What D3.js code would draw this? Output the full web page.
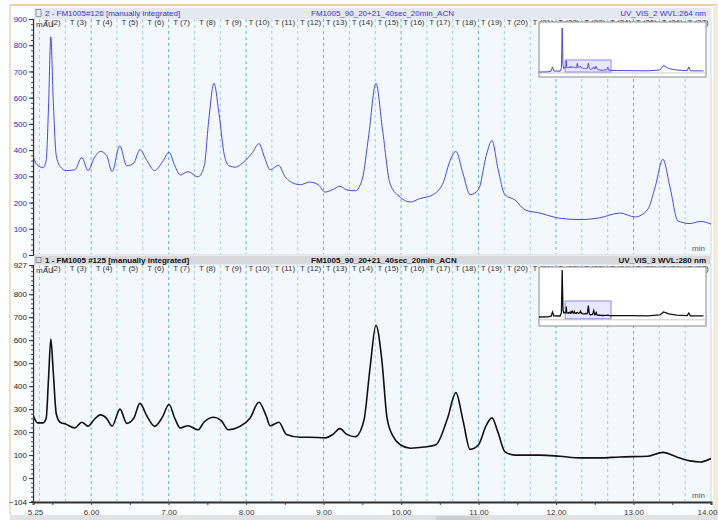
<!DOCTYPE html>
<html lang="en">
<head>
  <meta charset="UTF-8">
  <title>Chromatogram overlay</title>
  <script src="https://d3js.org/d3.v7.min.js"></script>
  <style>
    body { margin: 0; background: #fff; }
    text { font-family: "Liberation Sans", Arial, sans-serif; font-size: 8px; }
    .tick text { font-size: 8px; }
  </style>
</head>
<body>
  <svg id="chart" width="718" height="520"></svg>
  <script>
    // retention times (min) and absorbance (mAU)
    const topTimes = [5.25, 5.30, 5.38, 5.42, 5.45, 5.48, 5.51, 5.55, 5.60, 5.68, 5.79, 5.88, 5.96, 6.04, 6.12, 6.20, 6.27,
      6.37, 6.46, 6.55, 6.63, 6.72, 6.82, 6.92, 7.005, 7.08, 7.15, 7.25, 7.38, 7.46, 7.52, 7.585, 7.65, 7.72, 7.78, 7.86,
      7.93, 7.99, 8.08, 8.166, 8.24, 8.31, 8.42, 8.50, 8.57, 8.70, 8.82, 8.93, 9.02, 9.12, 9.21, 9.30, 9.41, 9.50, 9.58,
      9.676, 9.76, 9.86, 9.99, 10.12, 10.24, 10.40, 10.55, 10.62, 10.708, 10.80, 10.89, 11.00, 11.10, 11.173, 11.25,
      11.34, 11.47, 11.60, 11.79, 12.05, 12.31, 12.565, 12.824, 13.02, 13.185, 13.28, 13.379, 13.47, 13.573, 13.73,
      13.86, 14.0];
    const topValues = [375, 345, 333, 360, 560, 832, 600, 380, 338, 322, 325, 372, 322, 370, 395, 380, 318,
      416, 340, 350, 402, 360, 322, 355, 392, 340, 305, 318, 298, 340, 520, 655, 540, 380, 340, 335,
      345, 360, 390, 425, 370, 325, 342, 300, 280, 268, 278, 268, 240, 250, 262, 248, 245, 290, 450,
      655, 480, 270, 220, 202, 215, 228, 280, 350, 395, 310, 230, 250, 380, 437, 330,
      230, 210, 172, 160, 140, 135, 142, 160, 145, 175, 260, 365, 260, 130, 120,
      128, 118];

    const botTimes = [5.25, 5.31, 5.38, 5.42, 5.45, 5.48, 5.51, 5.55, 5.60, 5.67, 5.79, 5.88, 5.96, 6.04, 6.12, 6.20, 6.27,
      6.373, 6.46, 6.55, 6.63, 6.72, 6.82, 6.92, 7.005, 7.08, 7.15, 7.25, 7.38, 7.46, 7.585, 7.68, 7.77, 7.92, 8.05,
      8.166, 8.26, 8.31, 8.424, 8.52, 8.70, 8.82, 9.02, 9.12, 9.211, 9.30, 9.41, 9.52, 9.60, 9.676, 9.75, 9.82, 9.90,
      9.99, 10.12, 10.30, 10.45, 10.60, 10.708, 10.80, 10.89, 11.00, 11.10, 11.173, 11.25, 11.34, 11.47, 11.79, 12.05,
      12.31, 12.565, 12.824, 13.185, 13.379, 13.573, 13.73, 13.86, 14.0];
    const botValues = [275, 240, 240, 260, 430, 605, 470, 280, 243, 235, 218, 243, 226, 255, 275, 260, 226,
      300, 238, 260, 325, 270, 225, 265, 320, 260, 218, 228, 210, 245, 265, 250, 210, 225, 260,
      330, 270, 228, 243, 190, 178, 178, 175, 190, 215, 190, 180, 250, 480, 665, 520, 260, 180,
      145, 130, 135, 145, 260, 372, 250, 125, 145, 230, 262, 200, 115, 100, 100, 95,
      88, 88, 92, 95, 112, 90, 75, 70, 85];

    // whole run for the overview insets (outside the zoomed window)
    const preTimes = [0, 2.0, 2.6, 2.85, 3.1, 4.3, 4.55, 4.7, 4.85, 5.0];
    const topPre = [0, 10, 60, 380, 80, 60, 300, 3300, 500, 250];
    const botPre = [0, 10, 50, 290, 70, 60, 250, 2720, 400, 240];
    const postTimes = [15, 18, 21, 23.3, 24, 25, 26.5, 28.5, 28.8, 29.1, 31.6];
    const topPost = [110, 100, 90, 150, 500, 250, 150, 100, 380, 90, 80];
    const botPost = [80, 75, 70, 120, 290, 180, 110, 80, 230, 70, 60];

    // integration windows and their labels
    const windowLines = [5.333, 5.667, 6.0, 6.333, 6.667, 7.0, 7.333, 7.667, 8.0, 8.333, 8.667, 9.0, 9.333,
      9.667, 10.0, 10.333, 10.667, 11.0, 11.333, 11.667, 12.0, 12.333, 12.667, 13.0, 13.333, 13.667];
    const windowNames = ["T (2)", "T (3)", "T (4)", "T (5)", "T (6)", "T (7)", "T (8)", "T (9)", "T (10)", "T (11)",
      "T (12)", "T (13)", "T (14)", "T (15)", "T (16)", "T (17)", "T (18)", "T (19)", "T (20)", "T (21)", "T (22)",
      "T (23)", "T (24)", "T (25)", "T (26)", "T (27)"];

    const xTickValues = [5.25, 6, 7, 8, 9, 10, 11, 12, 13, 14];
    const topTicks = [0, 100, 200, 300, 400, 500, 600, 700, 800, 900];
    const botTicks = [-104, 0, 100, 200, 300, 400, 500, 600, 700, 800, 927];

    const svg = d3.select("#chart");
    const x = d3.scaleLinear().domain([5.25, 14]).range([33, 711]);

    // outer frame
    svg.append("rect").attr("x", 0).attr("y", 0).attr("width", 718).attr("height", 520).attr("fill", "#fff");
    svg.append("rect").attr("x", 10).attr("y", 5).attr("width", 703).attr("height", 510).attr("fill", "#fbfcfe");
    svg.append("line").attr("x1", 10).attr("x2", 718).attr("y1", 5).attr("y2", 5).attr("stroke", "#efcf9f").attr("stroke-width", 2);
    svg.append("line").attr("x1", 10).attr("x2", 10).attr("y1", 5).attr("y2", 515).attr("stroke", "#e8d6b8").attr("stroke-width", 1.5);
    svg.append("rect").attr("x", 713).attr("y", 5).attr("width", 5).attr("height", 515).attr("fill", "#f6ead2");
    svg.append("rect").attr("x", 10).attr("y", 515).attr("width", 708).attr("height", 5).attr("fill", "#e2e2e2");
    svg.append("rect").attr("x", 436).attr("y", 516).attr("width", 44).attr("height", 4).attr("fill", "#cfcfcf");

    const panels = [
      { id: "top", top: 18, bottom: 255, times: topTimes, values: topValues, domain: [0, 900], range: [255, 19],
        ticks: topTicks, minorStep: 20, color: "#4646ee", width: 1, labelColor: "#2a2acc",
        barY: 8, barH: 10, barFill: "#e6e8f1", titleColor: "#3535d8", titleWeight: "normal",
        title: "2 - FM1005#126 [manually integrated]", wvl: "UV_VIS_2 WVL:264 nm",
        pre: topPre, post: topPost, inset: { y0: 22, y1: 77, base: 72, peak: 28, max: 3300 } },
      { id: "bot", top: 264, bottom: 502, times: botTimes, values: botValues, domain: [-104, 927], range: [502, 265],
        ticks: botTicks, minorStep: 20, color: "#111", width: 1.6, labelColor: "#222",
        barY: 256, barH: 8, barFill: "#d9d9dc", titleColor: "#111", titleWeight: "bold",
        title: "1 - FM1005 #125 [manually integrated]", wvl: "UV_VIS_3 WVL:280 nm",
        pre: botPre, post: botPost, inset: { y0: 267, y1: 326, base: 317, peak: 270, max: 2720 } }
    ];

    panels.forEach(p => {
      const y = d3.scaleLinear().domain(p.domain).range(p.range);
      const g = svg.append("g");

      g.append("rect").attr("x", 34).attr("y", p.top).attr("width", 677).attr("height", p.bottom - p.top)
        .attr("fill", "#f3f8fd").attr("stroke", "#b9c2cc").attr("stroke-width", 0.6);

      // title bar
      g.append("rect").attr("x", 34).attr("y", p.barY).attr("width", 677).attr("height", p.barH).attr("fill", p.barFill);
      g.append("rect").attr("x", 36).attr("y", p.barY + 1.5).attr("width", 5).attr("height", p.barH - 3)
        .attr("fill", "none").attr("stroke", "#666").attr("stroke-width", 0.6);
      const ty = p.barY + p.barH / 2 + 3;
      g.append("text").attr("x", 45).attr("y", ty).attr("fill", p.titleColor).attr("font-weight", p.titleWeight).text(p.title);
      g.append("text").attr("x", 311).attr("y", ty).attr("fill", p.titleColor).attr("font-weight", p.titleWeight)
        .text("FM1005_90_20+21_40sec_20min_ACN");
      g.append("text").attr("x", 706).attr("y", ty).attr("text-anchor", "end").attr("fill", p.titleColor)
        .attr("font-weight", p.titleWeight).text(p.wvl);

      // integration window lines
      g.selectAll(".win").data(windowLines).enter().append("line")
        .attr("x1", d => x(d)).attr("x2", d => x(d))
        .attr("y1", p.top + 1).attr("y2", p.bottom - 1)
        .attr("stroke", (d, i) => i % 3 === 2 ? "#5fb2ea" : "#93cdf2")
        .attr("stroke-width", 1).attr("stroke-dasharray", "3,3");

      const labelY = p.top + 7;
      const winEnd = i => i < windowLines.length - 1 ? windowLines[i + 1] : 14;
      g.selectAll(".wname").data(windowNames).enter().append("text")
        .attr("x", (d, i) => (x(windowLines[i]) + x(winEnd(i))) / 2)
        .attr("y", labelY).attr("text-anchor", "middle").attr("fill", "#333").text(d => d);
      g.append("text").attr("x", 36).attr("y", labelY + 2).attr("fill", "#333").attr("font-size", "7px").text("mAU");

      // trace
      const clipId = "clip-" + p.id;
      svg.append("clipPath").attr("id", clipId).append("rect")
        .attr("x", 34).attr("y", p.top).attr("width", 677).attr("height", p.bottom - p.top);
      const line = d3.line().x((d, i) => x(p.times[i])).y(d => y(d)).curve(d3.curveMonotoneX);
      g.append("path").datum(p.values).attr("d", line).attr("fill", "none")
        .attr("stroke", p.color).attr("stroke-width", p.width).attr("clip-path", `url(#${clipId})`);

      // overview inset
      const ins = p.inset;
      const ix = d3.scaleLinear().domain([0, 31.6]).range([537.5, 703.5]);
      const iy = d3.scaleLinear().domain([0, ins.max]).range([ins.base, ins.peak]);
      g.append("rect").attr("x", 539).attr("y", ins.y0).attr("width", 167).attr("height", ins.y1 - ins.y0)
        .attr("fill", "#fff").attr("stroke", "#8a8a8a").attr("stroke-width", 1);
      g.append("line").attr("x1", 539).attr("x2", 706).attr("y1", iy(p.domain[0]) + 1).attr("y2", iy(p.domain[0]) + 1)
        .attr("stroke", "#bbb").attr("stroke-width", 0.8);
      g.append("rect").attr("x", ix(5.25)).attr("y", iy(p.domain[1])).attr("width", ix(14) - ix(5.25))
        .attr("height", iy(p.domain[0]) - iy(p.domain[1]))
        .attr("fill", "rgba(120,120,255,0.18)").attr("stroke", "#8c8cf5").attr("stroke-width", 1);
      const allT = preTimes.concat(p.times, postTimes);
      const allV = p.pre.concat(p.values, p.post);
      const insClip = "iclip-" + p.id;
      svg.append("clipPath").attr("id", insClip).append("rect")
        .attr("x", 539).attr("y", ins.y0).attr("width", 167).attr("height", ins.y1 - ins.y0);
      g.append("path").datum(allV)
        .attr("d", d3.line().x((d, i) => ix(allT[i])).y(d => iy(d)))
        .attr("fill", "none").attr("stroke", p.color).attr("stroke-width", p.id === "top" ? 1 : 1.3)
        .attr("clip-path", `url(#${insClip})`);

      // y axis
      const minor = d3.range(Math.ceil(p.domain[0] / p.minorStep) * p.minorStep, p.domain[1], p.minorStep);
      g.append("g").attr("transform", "translate(33,0)")
        .call(d3.axisLeft(y).tickValues(minor).tickSize(2).tickFormat(""))
        .call(a => a.select(".domain").remove())
        .call(a => a.selectAll("line").attr("stroke", "#444"));
      g.append("g").attr("transform", "translate(33,0)")
        .call(d3.axisLeft(y).tickValues(p.ticks).tickSize(4).tickPadding(2).tickFormat(d3.format("d")))
        .call(a => a.select(".domain").attr("stroke", "#333").attr("stroke-width", 1.2))
        .call(a => a.selectAll("line").attr("stroke", "#333"))
        .call(a => a.selectAll("text").attr("fill", p.labelColor).attr("font-size", "8px"));

      g.append("text").attr("x", 705).attr("y", p.bottom - 4).attr("text-anchor", "end")
        .attr("fill", "#555").attr("font-size", "7px").text("min");
    });

    // x axis
    const xMinor = [5.5, 6.5, 7.5, 8.5, 9.5, 10.5, 11.5, 12.5, 13.5];
    const xa = svg.append("g").attr("transform", "translate(0,502)");
    xa.call(d3.axisBottom(x).tickValues(xMinor).tickSize(3).tickFormat(""))
      .call(a => a.selectAll("line").attr("stroke", "#444"));
    xa.append("g").call(d3.axisBottom(x).tickValues(xTickValues).tickSize(3).tickPadding(4).tickFormat(d3.format(".2f")))
      .call(a => a.select(".domain").attr("stroke", "#333").attr("stroke-width", 2))
      .call(a => a.selectAll("line").attr("stroke", "#444"))
      .call(a => a.selectAll("text").attr("fill", "#333").attr("font-size", "8px")
        .attr("dx", d => d === 14 ? -4 : d === 5.25 ? 2 : 0));
  </script>
</body>
</html>
